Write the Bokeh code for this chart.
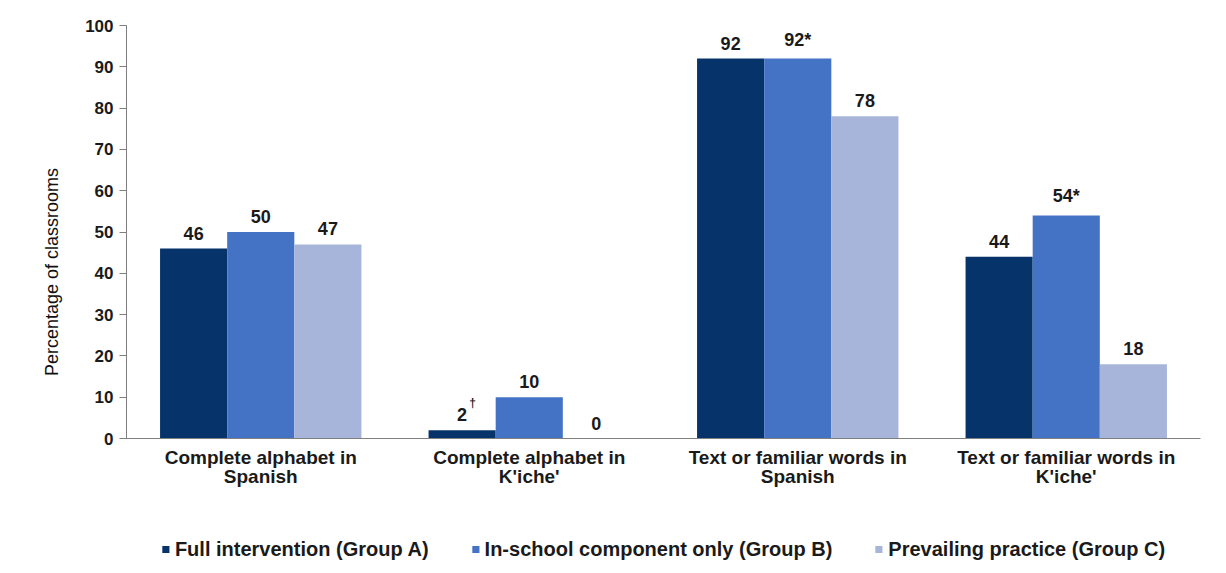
from bokeh.plotting import figure
from bokeh.models import ColumnDataSource, Range1d, FactorRange, FixedTicker, Legend, LegendItem
from bokeh.layouts import column
from bokeh.transform import dodge
from bokeh.core.properties import value
from bokeh.embed import file_html
from bokeh.resources import INLINE

categories = ["Complete alphabet in\nSpanish", "Complete alphabet in\nK'iche'",
              "Text or familiar words in\nSpanish", "Text or familiar words in\nK'iche'"]
series_names = ["Full intervention (Group A)", "In-school component only (Group B)",
                "Prevailing practice (Group C)"]
group_a = [46, 2, 92, 44]
group_b = [50, 10, 92, 54]
group_c = [47, 0, 78, 18]
labels_a = ["46", "2", "92", "44"]
labels_b = ["50", "10", "92*", "54*"]
labels_c = ["47", "0", "78", "18"]
sup_a = ["", "\u2020", "", ""]
y_ticks = [0, 10, 20, 30, 40, 50, 60, 70, 80, 90, 100]
y_title = "Percentage of classrooms"

colors = ["#06336A", "#4472C4", "#A8B5DA"]
BOLD_FONT = "Liberation Sans"

src = ColumnDataSource(dict(cat=categories, a=group_a, b=group_b, c=group_c,
                            la=labels_a, lb=labels_b, lc=labels_c, sa=sup_a))

H1 = 525
p = figure(width=1226, height=H1, x_range=FactorRange(*categories), y_range=Range1d(0, 100),
           output_backend="svg", toolbar_location=None,
           min_border_left=126, min_border_right=26, min_border_top=25, min_border_bottom=H1 - 438)
p.outline_line_color = None
p.xgrid.grid_line_color = None
p.ygrid.grid_line_color = None
p.background_fill_color = "white"
p.border_fill_color = "white"

offsets = [-0.25, 0.0, 0.25]
keys = ["a", "b", "c"]
lkeys = ["la", "lb", "lc"]
for k, lk, off, col in zip(keys, lkeys, offsets, colors):
    p.vbar(x=dodge("cat", off, range=p.x_range), top=k, width=0.25, source=src,
           fill_color=col, line_color=None)
    p.text(x=dodge("cat", off, range=p.x_range), y=k, text=lk, source=src,
           text_align="center", text_baseline="bottom", y_offset=-9,
           text_font=value(BOLD_FONT), text_font_style="bold", text_font_size="18px",
           text_color="#1a1a1a")

# superscript marks
p.text(x=dodge("cat", -0.25, range=p.x_range), y="a", text="sa", source=src,
       text_align="left", text_baseline="bottom", x_offset=7, y_offset=-20,
       text_font=value(BOLD_FONT), text_font_style="bold", text_font_size="12px",
       text_color="#1a1a1a")

# axes
yax = p.yaxis[0]
yax.ticker = FixedTicker(ticks=y_ticks)
# trailing non-breaking spaces shift the rotated title down, as in the original
yax.axis_label = y_title + "\u00a0" * 16
yax.axis_label_text_font = "Liberation Sans"
yax.axis_label_text_font_style = "normal"
yax.axis_label_text_font_size = "18px"
yax.axis_label_text_color = "#111111"
yax.axis_label_standoff = 20
yax.major_label_text_font = BOLD_FONT
yax.major_label_text_font_style = "bold"
yax.major_label_text_font_size = "17px"
yax.major_label_text_color = "#1a1a1a"
yax.major_tick_in = 0
yax.major_tick_out = 7
yax.minor_tick_line_color = None
yax.axis_line_color = "#7f7f7f"
yax.major_tick_line_color = "#7f7f7f"
yax.major_label_standoff = 6

xax = p.xaxis[0]
xax.major_tick_line_color = None
xax.minor_tick_line_color = None
xax.axis_line_color = "#7f7f7f"
xax.major_label_text_font = BOLD_FONT
xax.major_label_text_font_style = "bold"
xax.major_label_text_font_size = "19px"
xax.major_label_text_line_height = 0.95
xax.major_label_text_color = "#1a1a1a"
xax.major_label_standoff = 2
xax.group_text_font_size = "0px"

# legend strip: same series, bars kept out of view so only the legend shows
H2 = 573 - H1
q = figure(width=1226, height=H2, x_range=FactorRange(*categories), y_range=Range1d(1000, 1001),
           output_backend="svg", toolbar_location=None,
           x_axis_location=None, y_axis_location=None,
           min_border_left=0, min_border_right=0, min_border_top=0, min_border_bottom=0)
q.outline_line_color = None
q.xgrid.grid_line_color = None
q.ygrid.grid_line_color = None
q.background_fill_color = "white"
q.border_fill_color = "white"
legend_renderers = []
for k, off, col in zip(keys, offsets, colors):
    r = q.vbar(x=dodge("cat", off, range=q.x_range), top=k, width=0.25, source=src,
               fill_color=col, line_color=None)
    legend_renderers.append(r)

legend = Legend(items=[LegendItem(label=n, renderers=[r]) for n, r in zip(series_names, legend_renderers)],
                orientation="horizontal", location="center",
                glyph_width=9, glyph_height=9, label_standoff=5, spacing=42,
                padding=0, margin=0, border_line_color=None, background_fill_alpha=0,
                label_text_font=BOLD_FONT, label_text_font_style="bold",
                label_text_font_size="20px", label_text_color="#1a1a1a")
q.add_layout(legend, "center")

layout = column(p, q, spacing=0)
open("out.html", "w").write(file_html(layout, INLINE))
